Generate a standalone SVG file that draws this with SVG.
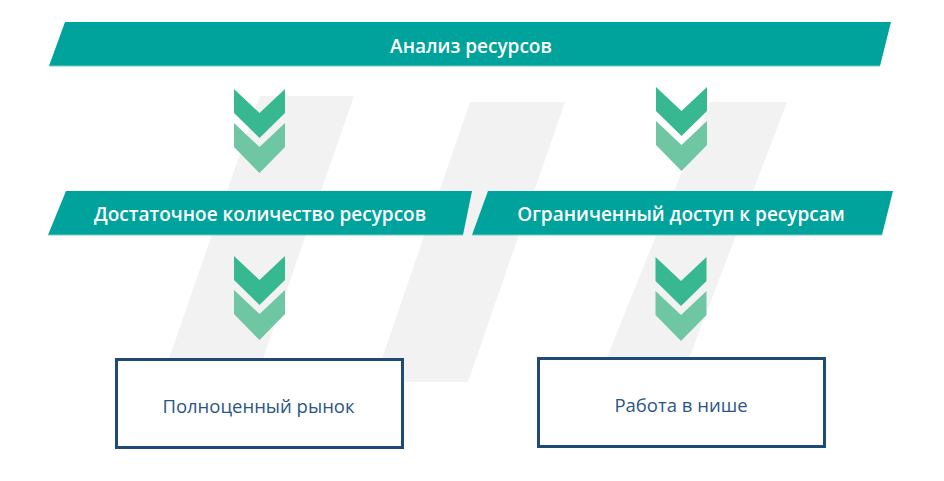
<svg xmlns="http://www.w3.org/2000/svg" width="944" height="481" viewBox="0 0 944 481">
<defs>
<style>
.bg{fill:#f2f2f2}
.banner{fill:#00a39b}
.edge{stroke:#6fd0c8;stroke-width:1.2;fill:none}
.btxt{font-family:"Open Sans","Noto Sans","DejaVu Sans",sans-serif;font-weight:600;font-size:19px;fill:#ffffff;text-anchor:middle}
.dark{fill:#38b890}
.light{fill:#6ec6a3}
.box{fill:#ffffff;stroke:#1f4a78;stroke-width:3}
.ttxt{font-family:"Open Sans","Noto Sans","DejaVu Sans",sans-serif;font-size:18.5px;fill:#2b5584;text-anchor:middle}
</style>
<g id="chev">
<polygon class="dark" points="-25.5,0 0,24 25.5,0 25.5,24 0,49 -25.5,24"/>
<polygon class="light" points="-25.5,34 0,58 25.5,34 25.5,58 0,84 -25.5,58"/>
</g>
</defs>
<rect width="944" height="481" fill="#ffffff"/>
<g id="background">
<polygon class="bg" points="260,96 354,96 257,376 163,376"/>
<polygon class="bg" points="470,102 565,102 468,382 374,382"/>
<polygon class="bg" points="710,102 787,102 680,382 597,382"/>
</g>
<g id="connectors">
<use href="#chev" x="259.5" y="89"/>
<use href="#chev" x="681.5" y="87"/>
<use href="#chev" x="259.5" y="256"/>
<use href="#chev" x="681" y="257"/>
</g>
<g id="n-analysis">
<polygon class="banner" points="65,22 891,22 880,66 49,66"/>
<line class="edge" x1="49" y1="66" x2="880" y2="66"/>
<text class="btxt" x="471" y="53">Анализ ресурсов</text>
</g>
<g id="n-enough">
<polygon class="banner" points="66,191 472,191 463,235 48,235"/>
<line class="edge" x1="48" y1="235" x2="463" y2="235"/>
<text class="btxt" x="260" y="221">Достаточное количество ресурсов</text>
</g>
<g id="n-limited">
<polygon class="banner" points="488,191 893,191 882,235 472,235"/>
<line class="edge" x1="472" y1="235" x2="882" y2="235"/>
<text class="btxt" x="681" y="221">Ограниченный доступ к ресурсам</text>
</g>
<g id="n-market">
<rect class="box" x="116.5" y="359.5" width="286" height="88"/>
<text class="ttxt" x="258.5" y="413">Полноценный рынок</text>
</g>
<g id="n-niche">
<rect class="box" x="538.5" y="358.5" width="286" height="88"/>
<text class="ttxt" x="681" y="412">Работа в нише</text>
</g>
</svg>
